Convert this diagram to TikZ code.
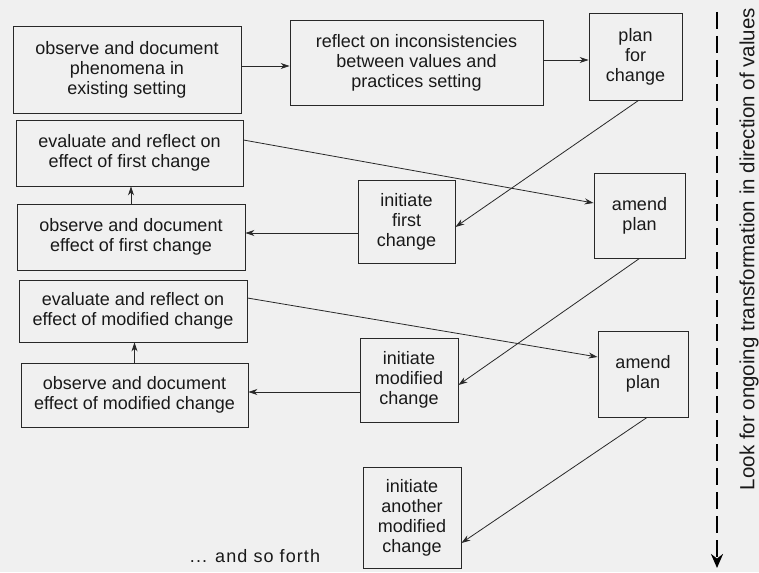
\documentclass[tikz,border=0pt]{standalone}
\usepackage{fontspec}
\setmainfont{Liberation Sans}
\usetikzlibrary{arrows.meta}
\definecolor{paper}{RGB}{240,240,240}
\definecolor{ink}{RGB}{40,40,40}
\definecolor{txt}{RGB}{25,25,25}
\begin{document}
\begin{tikzpicture}[x=1pt,y=-1pt,
  box/.style={draw=ink,line width=0.9pt,rectangle,align=center,inner sep=0pt,
    text=txt,font=\fontsize{18}{20}\selectfont},
  arr/.style={draw=ink,line width=0.8pt,-{Stealth[length=9pt,width=6pt]}},
  darr/.style={draw=black,line width=2.6pt,dash pattern=on 17pt off 7pt,-{Stealth[length=14pt,width=12pt]}}]
\fill[paper] (0,0) rectangle (759,572);
\useasboundingbox (0,0) rectangle (759,572);
% boxes
\node[box,minimum width=228pt,minimum height=87pt] (A) at (127,69.5) {observe and document\\phenomena in\\existing setting};
\node[box,minimum width=253pt,minimum height=85pt] (B) at (416.5,62.5) {reflect on inconsistencies\\between values and\\practices setting};
\node[box,minimum width=93pt,minimum height=87pt] (C) at (635.5,56.5) {plan\\for\\change};
\node[box,minimum width=227pt,minimum height=66pt] (D) at (129.5,153) {evaluate and reflect on\\effect of first change};
\node[box,minimum width=228pt,minimum height=66pt] (E) at (131,237) {observe and document\\effect of first change};
\node[box,minimum width=97pt,minimum height=83pt] (F) at (406.5,221.5) {initiate\\first\\change};
\node[box,minimum width=91pt,minimum height=85pt] (G) at (639.5,215.5) {amend\\plan};
\node[box,minimum width=228pt,minimum height=62pt] (H) at (133,311) {evaluate and reflect on\\effect of modified change};
\node[box,minimum width=227pt,minimum height=64pt] (I) at (134.5,395) {observe and document\\effect of modified change};
\node[box,minimum width=98pt,minimum height=84pt] (J) at (409,380) {initiate\\modified\\change};
\node[box,minimum width=90pt,minimum height=86pt] (K) at (643,374) {amend\\plan};
\node[box,minimum width=98pt,minimum height=101pt] (L) at (412,517.5) {initiate\\another\\modified\\change};
\node[text=txt,font=\fontsize{18}{20}\selectfont\addfontfeature{LetterSpace=6}] (etc) at (255,556) {... and so forth};
% connectors
\draw[arr] (A.east |- 0,66) -- (B.west |- 0,66);
\draw[arr] (B.east |- 0,60) -- (C.west |- 0,60);
\draw[arr] (D.east |- 0,140) -- (G.west |- 0,203);
\draw[arr] (E.north) -- (E.north |- D.south);
\draw[arr] (C.south) ++(3,0) coordinate (c1) (c1) -- (F.east |- 0,227);
\draw[arr] (F.west |- 0,233) -- (E.east |- 0,233);
\draw[arr] (H.east |- 0,298) -- (K.west |- 0,357);
\draw[arr] (I.north) -- (I.north |- H.south);
\draw[arr] (G.south) -- (J.east |- 0,385);
\draw[arr] (J.west |- 0,392) -- (I.east |- 0,392);
\draw[arr] (K.south) ++(4,0) coordinate (k1) (k1) -- (L.east |- 0,543);
% dashed direction arrow
\coordinate (dtop) at (717,12);
\coordinate (dbot) at (717,568);
\draw[darr] (dtop) -- (dbot);
\node[rotate=90,text=txt,font=\fontsize{20.5}{24}\selectfont] (look) at (749,249) {Look for ongoing transformation in direction of values};
\end{tikzpicture}
\end{document}
